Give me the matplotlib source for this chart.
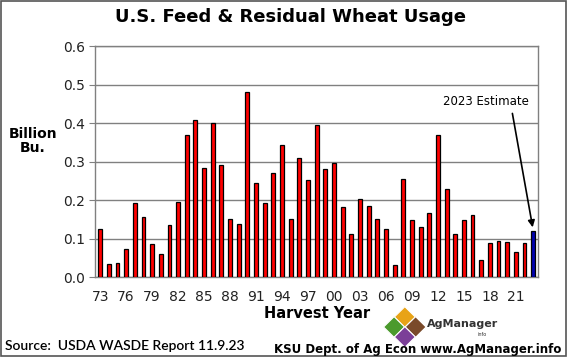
import matplotlib
matplotlib.use("Agg")
import matplotlib.pyplot as plt
from matplotlib.patches import Polygon, Rectangle

# Data
# -----------------------------------------------------------
years = list(range(1973, 2024))
usage = [
    0.124, 0.034, 0.036, 0.074, 0.192, 0.157, 0.086, 0.059, 0.134, 0.194,
    0.370, 0.408, 0.283, 0.400, 0.290, 0.150, 0.138, 0.481, 0.244, 0.193,
    0.271, 0.344, 0.152, 0.308, 0.251, 0.395, 0.280, 0.295, 0.182, 0.113,
    0.203, 0.184, 0.152, 0.124, 0.030, 0.255, 0.148, 0.131, 0.166, 0.370,
    0.228, 0.113, 0.148, 0.162, 0.045, 0.088, 0.094, 0.092, 0.064, 0.088,
    0.119,
]
estimate_year = 2023
tick_years = list(range(1973, 2022, 3))
tick_labels = [f"{y % 100:02d}" for y in tick_years]
y_ticks = [0.0, 0.1, 0.2, 0.3, 0.4, 0.5, 0.6]

# Plot
# -----------------------------------------------------------
fig = plt.figure(figsize=(5.67, 3.57), dpi=100)
ax = fig.add_axes([0.1675, 0.224, 0.782, 0.647])

colors = ["#0000b0" if y == estimate_year else "#ff0000" for y in years]
ax.bar(years, usage, width=0.45, color=colors, edgecolor="black", linewidth=0.9, zorder=3)

ax.set_xlim(years[0] - 0.6, years[-1] + 0.6)
ax.set_ylim(0, 0.6)
ax.set_yticks(y_ticks)
ax.set_yticklabels([f"{v:.1f}" for v in y_ticks])
ax.set_xticks(tick_years)
ax.set_xticklabels(tick_labels)
ax.set_xticks(years, minor=True)
ax.tick_params(axis="both", labelsize=10, labelcolor="#222222")
ax.tick_params(axis="y", direction="out", length=4, color="#808080", pad=3)
ax.tick_params(axis="x", which="both", direction="in", length=4, color="#808080", pad=9)
ax.grid(axis="y", color="#808080", linewidth=1, zorder=0)
for s in ax.spines.values():
    s.set_color("#808080")
    s.set_linewidth(1)

ax.set_xlabel("Harvest Year", fontsize=10.5, fontweight="bold", labelpad=2)

ax.text(2017.5, 0.455, "2023 Estimate", fontsize=8.5, ha="center", va="center")
ax.annotate("", xy=(estimate_year, usage[-1] + 0.003), xytext=(2020.6, 0.425),
            arrowprops=dict(arrowstyle="-|>", color="black", lw=1.2,
                            shrinkA=0, shrinkB=2, mutation_scale=10))

fig.text(0.512, 0.952, "U.S. Feed & Residual Wheat Usage", ha="center", va="center",
         fontsize=13, fontweight="bold")
fig.text(0.058, 0.605, "Billion\nBu.", ha="center", va="center", fontsize=10,
         fontweight="bold", linespacing=1.05)
fig.text(0.009, 0.03, "Source:  USDA WASDE Report 11.9.23", ha="left", va="center",
         fontsize=10, family="Lato", fontweight=600)
fig.text(0.99, 0.022, "KSU Dept. of Ag Econ www.AgManager.info", ha="right", va="center",
         fontsize=8.5, fontweight="bold")

# simple AgManager logo
logo = [
    ((0.714, 0.112), "#e8a317"),  # top diamond
    ((0.695, 0.084), "#4b9a2d"),  # left diamond
    ((0.733, 0.084), "#7a4a2a"),  # right diamond
    ((0.714, 0.056), "#7b3f98"),  # bottom diamond
]
dx, dy = 0.0185, 0.029
for (cx, cy), c in logo:
    fig.patches.append(Polygon([(cx, cy + dy), (cx + dx, cy), (cx, cy - dy), (cx - dx, cy)],
                               closed=True, transform=fig.transFigure, facecolor=c,
                               edgecolor="white", linewidth=0.8))
fig.text(0.753, 0.092, "AgManager", ha="left", va="center", fontsize=8, fontweight="bold",
         color="#333333")
fig.text(0.858, 0.062, "info", ha="right", va="center", fontsize=3.5, color="#333333")

fig.patches.append(Rectangle((0.002, 0.003), 0.996, 0.994, transform=fig.transFigure,
                             fill=False, edgecolor="#555555", linewidth=1.2))

fig.savefig("out.png", dpi=100)
